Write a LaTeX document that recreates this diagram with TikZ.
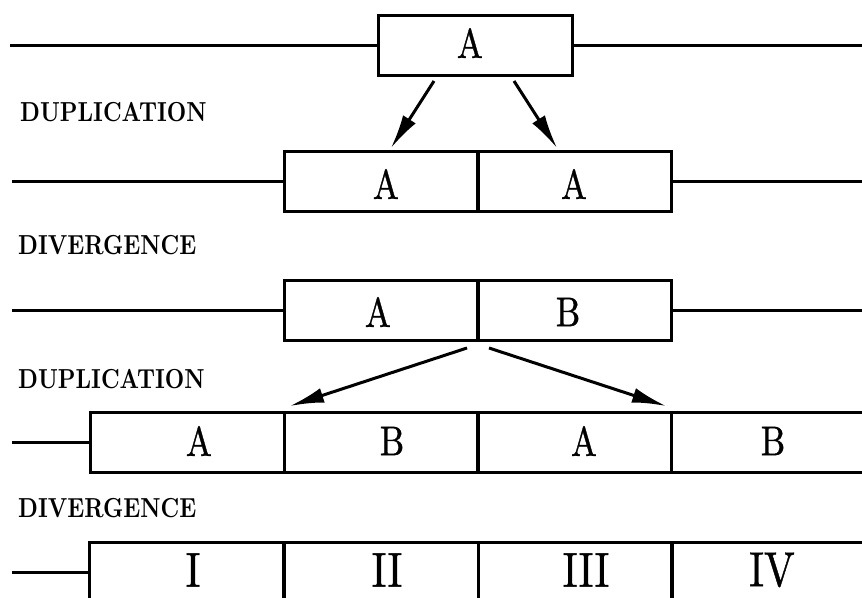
\documentclass[tikz,border=0pt]{standalone}
\usetikzlibrary{arrows.meta}
\newcommand\heavy[1]{\special{pdf:literal 2 Tr 0.1 w}#1\special{pdf:literal 0 Tr}}
\newcommand\ct[1]{\scalebox{3.45}[4.15]{\fontsize{10}{10}\selectfont\heavy{#1}}}
\newcommand\rn[1]{\scalebox{4.1}[4.9]{\fontsize{10}{10}\selectfont\heavy{#1}}}
\newcommand\lab[1]{\scalebox{2.25}[2.75]{\fontsize{10}{10}\selectfont\bfseries #1}}
\tikzset{
  cell/.style={draw, line width=3pt, minimum width=194pt, minimum height=60pt, inner sep=0pt, outer sep=0pt},
  txt/.style={inner sep=0pt},
  wire/.style={line width=3pt},
  dup/.style={line width=3pt, -{Latex[length=34pt,width=15pt]}},
  stage/.style={anchor=west, inner sep=0pt}
}
\begin{document}
\begin{tikzpicture}[x=1pt,y=-1pt]
\useasboundingbox (0,0) rectangle (862,597);
\clip (0,0) rectangle (862,597);
% row 1
\node[cell] (r1a) at (475.5,45) {};
\node[txt] (t1a) at (470,43) {\ct{A}};
\coordinate (l1) at (10,45);
\coordinate (e1) at (862,45);
\draw[wire] (l1) -- (r1a.west);
\draw[wire] (r1a.east) -- (e1);
% row 2
\node[cell] (r2a) at (381,181) {};
\node[cell] (r2b) at (574,181) {};
\node[txt] (t2a) at (386,184) {\ct{A}};
\node[txt] (t2b) at (574,184) {\ct{A}};
\coordinate (l2) at (12,181);
\coordinate (e2) at (862,181);
\draw[wire] (l2) -- (r2a.west);
\draw[wire] (r2b.east) -- (e2);
% arrows 1
\coordinate (s1) at (434,81);
\coordinate (t1) at (391,148);
\coordinate (s2) at (514,81);
\coordinate (t2) at (557,148);
\draw[dup] (s1) -- (t1);
\draw[dup] (s2) -- (t2);
% row 3
\node[cell] (r3a) at (381,310) {};
\node[cell] (r3b) at (574,310) {};
\node[txt] (t3a) at (378,312) {\ct{A}};
\node[txt] (t3b) at (568,312) {\ct{B}};
\coordinate (l3) at (12,310);
\coordinate (e3) at (862,310);
\draw[wire] (l3) -- (r3a.west);
\draw[wire] (r3b.east) -- (e3);
% arrows 2
\coordinate (s3) at (467,348);
\coordinate (t3) at (290,406);
\coordinate (s4) at (489,348);
\coordinate (t4) at (666,406);
\draw[dup] (s3) -- (t3);
\draw[dup] (s4) -- (t4);
% row 4
\node[cell] (r4a) at (187,442) {};
\node[cell] (r4b) at (381,442) {};
\node[cell] (r4c) at (574,442) {};
\node[cell] (r4d) at (768,442) {};
\node[txt] (t4a) at (199,441) {\ct{A}};
\node[txt] (t4b) at (392,441) {\ct{B}};
\node[txt] (t4c) at (584,441) {\ct{A}};
\node[txt] (t4d) at (773,441) {\ct{B}};
\coordinate (l4) at (12,442);
\draw[wire] (l4) -- (r4a.west);
% row 5
\node[cell] (r5a) at (186,572) {};
\node[cell] (r5b) at (381,572) {};
\node[cell] (r5c) at (575,572) {};
\node[cell] (r5d) at (768,572) {};
\node[txt] (t5a) at (193,570) {\rn{I}};
\node[txt] (t5b) at (387,570) {\rn{II}};
\node[txt] (t5c) at (586,570) {\rn{III}};
\node[txt] (t5d) at (772,570) {\rn{IV}};
\coordinate (l5) at (12,572);
\draw[wire] (l5) -- (r5a.west);
% stage labels
\node[stage] (d1) at (20,112) {\lab{DUPLICATION}};
\node[stage] (v1) at (18,245) {\lab{DIVERGENCE}};
\node[stage] (d2) at (18,379) {\lab{DUPLICATION}};
\node[stage] (v2) at (18,508) {\lab{DIVERGENCE}};
\end{tikzpicture}
\end{document}
